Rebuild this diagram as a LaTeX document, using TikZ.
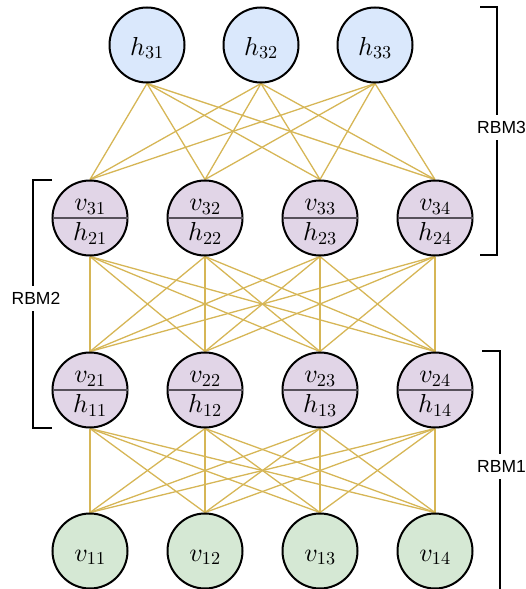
\documentclass[tikz,border=0pt]{standalone}
\usepackage{fontspec}
\newfontfamily\labelfont{Liberation Sans}
\usetikzlibrary{backgrounds}

% math symbols drawn from the 10pt designs, scaled freely
\DeclareFontShape{OML}{cmm}{m}{it}{<->cmmi10}{}
\DeclareFontShape{OT1}{cmr}{m}{n}{<->cmr10}{}

\definecolor{hidfill}{HTML}{DAE8FC}
\definecolor{pairfill}{HTML}{E1D5E7}
\definecolor{visfill}{HTML}{D5E8D4}
\definecolor{linkcol}{HTML}{D6B656}
\definecolor{divcol}{HTML}{56505A}

\begin{document}
\begin{tikzpicture}[x=1pt,y=-1pt,
  unit/.style={circle,draw=black,line width=2pt,minimum size=75pt,inner sep=0pt},
  hidden/.style={unit,fill=hidfill},
  paired/.style={unit,fill=pairfill},
  visible/.style={unit,fill=visfill},
  sym/.style={anchor=base,inner sep=0pt,font=\fontsize{26}{30}\selectfont},
  link/.style={draw=linkcol,line width=1.3pt},
  divider/.style={draw=divcol,line width=1.5pt,shorten <=1pt,shorten >=1pt},
  bracket/.style={draw=black,line width=1.6pt},
  tag/.style={fill=white,inner xsep=1pt,inner ysep=6pt,font=\labelfont\fontsize{17.5}{20}\selectfont}]

\useasboundingbox (0,0) rectangle (526,589);

% top hidden layer
\foreach \i/\x in {1/147,2/261,3/375} {
  \node[hidden] (t\i) at (\x,45) {};
  \node[sym] (t\i txt) at (\x,55) {$h_{3\i}$};
}

% two stacked layers of paired units (visible of one RBM / hidden of the next)
\foreach \i/\x in {1/90,2/205,3/320,4/435} {
  \node[paired] (a\i) at (\x,218) {};
  \draw[divider] (a\i.west) -- (a\i.east);
  \node[sym] (a\i up) at (\x,210.5) {$v_{3\i}$};
  \node[sym] (a\i lo) at (\x,240.5) {$h_{2\i}$};

  \node[paired] (b\i) at (\x,390) {};
  \draw[divider] (b\i.west) -- (b\i.east);
  \node[sym] (b\i up) at (\x,382.5) {$v_{2\i}$};
  \node[sym] (b\i lo) at (\x,412.5) {$h_{1\i}$};

  \node[visible] (c\i) at (\x,551) {};
  \node[sym] (c\i txt) at (\x,561) {$v_{1\i}$};
}

% full bipartite connections between neighbouring layers
\begin{pgfonlayer}{background}
  \foreach \i in {1,2,3} \foreach \j in {1,2,3,4}
    \draw[link] (t\i.south) -- (a\j.north);
  \foreach \i in {1,2,3,4} \foreach \j in {1,2,3,4} {
    \draw[link] (a\i.south) -- (b\j.north);
    \draw[link] (b\i.south) -- (c\j.north);
  }
\end{pgfonlayer}

% brackets marking each RBM
\coordinate (r3a) at (480,7);   \coordinate (r3b) at (497,7);
\coordinate (r3c) at (497,255); \coordinate (r3d) at (480,255);
\draw[bracket] (r3a) -- (r3b) -- (r3c) -- (r3d);
\node[tag] (rbm3) at (501.5,127.5) {RBM3};

\coordinate (r2a) at (52,180);  \coordinate (r2b) at (33,180);
\coordinate (r2c) at (33,428);  \coordinate (r2d) at (52,428);
\draw[bracket] (r2a) -- (r2b) -- (r2c) -- (r2d);
\node[tag] (rbm2) at (36,298.5) {RBM2};

\coordinate (r1a) at (482,351); \coordinate (r1b) at (500,351);
\coordinate (r1c) at (500,590.5); \coordinate (r1d) at (482,590.5);
\draw[bracket] (r1a) -- (r1b) -- (r1c) -- (r1d);
\node[tag] (rbm1) at (501.5,466.5) {RBM1};
\end{tikzpicture}
\end{document}
